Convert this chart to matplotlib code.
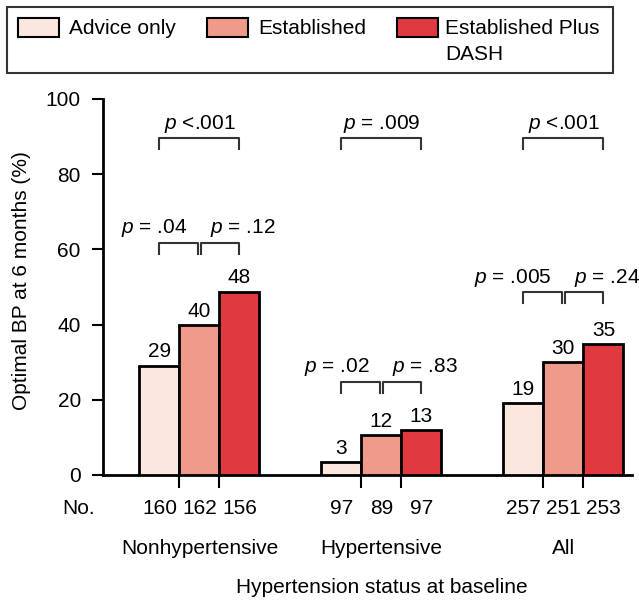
import matplotlib
matplotlib.use("Agg")
import matplotlib.pyplot as plt
from matplotlib.patches import Rectangle
import numpy as np

plt.rcParams['font.family'] = ['Liberation Sans', 'DejaVu Sans']
plt.rcParams['mathtext.fontset'] = 'custom'
plt.rcParams['mathtext.rm'] = 'Liberation Sans'
plt.rcParams['mathtext.it'] = 'Liberation Sans:italic'

groups = ["Nonhypertensive", "Hypertensive", "All"]
series = ["Advice only", "Established", "Established Plus\nDASH"]
colors = ["#FBE6E0", "#EF9A8A", "#E13940"]
# drawn bar heights (%)
heights = [[29.1, 39.8, 48.8],
           [3.4, 10.7, 11.9],
           [19.2, 30.0, 34.9]]
# printed value labels
value_labels = [["29", "40", "48"],
                ["3", "12", "13"],
                ["19", "30", "35"]]
counts = [["160", "162", "156"],
          ["97", "89", "97"],
          ["257", "251", "253"]]
# pairwise p-values: (left pair, right pair, overall)
p_pair_left = ["= .04", "= .02", "= .005"]
p_pair_right = ["= .12", "= .83", "= .24"]
p_overall = ["<.001", "= .009", "<.001"]
pair_bracket_y = [61.7, 24.7, 48.6]
overall_bracket_y = 89.5

W, H = 639, 602
fig = plt.figure(figsize=(W / 100, H / 100), dpi=100)
ax = fig.add_axes([103 / W, 1 - 475 / H, (632 - 103) / W, (475 - 99) / H])

bw = 0.22
x = np.arange(len(groups))
FS = 15
for j in range(3):
    xs = x + (j - 1) * bw
    hs = [heights[g][j] for g in range(3)]
    ax.bar(xs, hs, width=bw, color=colors[j], edgecolor='black', linewidth=2, zorder=3)
    for g in range(3):
        ax.annotate(value_labels[g][j], (xs[g], hs[g]), xytext=(0, 3),
                    textcoords='offset points', ha='center', va='bottom', fontsize=FS)

tk = 2.9
lc = '#333333'
gap = 0.009
for g in range(3):
    c = x[g]
    # overall bracket
    y0 = overall_bracket_y
    ax.plot([c - bw, c - bw, c + bw, c + bw], [y0 - tk, y0, y0, y0 - tk], color=lc, lw=1.5, clip_on=False)
    ax.text(c, y0 + 0.8, r"$\it{p}$ " + p_overall[g], ha='center', va='bottom', fontsize=FS)
    # pair brackets
    y1 = pair_bracket_y[g]
    ax.plot([c - bw, c - bw, c - gap, c - gap], [y1 - tk, y1, y1, y1 - tk], color=lc, lw=1.5)
    ax.plot([c + gap, c + gap, c + bw, c + bw], [y1 - tk, y1, y1, y1 - tk], color=lc, lw=1.5)
    ax.text(c - 0.066, y1 + 1.0, r"$\it{p}$ " + p_pair_left[g], ha='right', va='bottom', fontsize=FS)
    ax.text(c + 0.058, y1 + 1.0, r"$\it{p}$ " + p_pair_right[g], ha='left', va='bottom', fontsize=FS)

ax.set_xlim(-0.53, 2.377)
ax.set_ylim(0, 100)
ax.set_yticks([0, 20, 40, 60, 80, 100])
ax.tick_params(axis='y', length=8, width=1.5, labelsize=FS, pad=8)
xt = np.concatenate([x - bw / 2, x + bw / 2])
ax.set_xticks(np.sort(xt))
ax.set_xticklabels([])
ax.tick_params(axis='x', length=9, width=1.5, direction='out')
for s in ['top', 'right']:
    ax.spines[s].set_visible(False)
for s in ['left', 'bottom']:
    ax.spines[s].set_linewidth(2)

tr = ax.get_xaxis_transform()
for g in range(3):
    for j in range(3):
        ax.text(x[g] + (j - 1) * bw, -0.088, counts[g][j], transform=tr, ha='center', va='center', fontsize=FS)
    ax.text(x[g], -0.195, groups[g], transform=tr, ha='center', va='center', fontsize=FS)
ax.text(x[1], -0.298, "Hypertension status at baseline", transform=tr, ha='center', va='center', fontsize=FS)
fig.text(62 / W, 1 - 508 / H, "No.", ha='left', va='center', fontsize=FS)
fig.text(22 / W, 1 - 281 / H, "Optimal BP at 6 months (%)", rotation=90, ha='center', va='center', fontsize=FS)

# legend drawn in pixel coordinates
lax = fig.add_axes([0, 0, 1, 1], zorder=-1)
lax.set_xlim(0, W)
lax.set_ylim(H, 0)
lax.axis('off')
lax.add_patch(Rectangle((7, 7), 606, 66, fill=False, edgecolor='#333333', linewidth=1.5))
patch_x = [18, 207, 397]
text_x = [69, 258, 445]
for j in range(3):
    lax.add_patch(Rectangle((patch_x[j], 18), 41, 19, facecolor=colors[j], edgecolor='black', linewidth=1.5))
    for k, line in enumerate(series[j].split("\n")):
        lax.text(text_x[j], 29 + 25 * k, line, ha='left', va='center', fontsize=FS)

fig.savefig("out.png", dpi=100)
